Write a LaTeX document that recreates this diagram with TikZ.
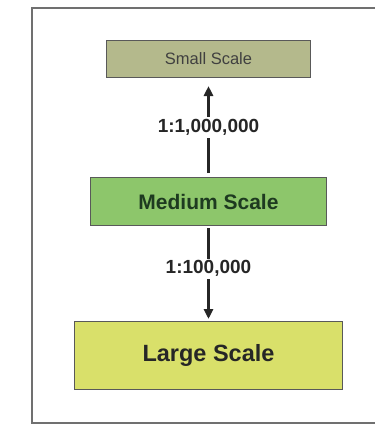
\documentclass[tikz,border=0pt]{standalone}
\usepackage{fontspec}
\setmainfont{Liberation Sans}
\usetikzlibrary{arrows.meta}
\definecolor{smallfill}{HTML}{B4B98C}
\definecolor{medfill}{HTML}{8DC66B}
\definecolor{largefill}{HTML}{D9E06A}
\definecolor{frame}{HTML}{707070}
\begin{document}
\begin{tikzpicture}[x=1pt,y=-1pt,
  scalebox/.style={draw=#1, line width=1pt, inner sep=0pt, anchor=north west},
  conn/.style={line width=3.6pt, draw=black!85, -{Triangle[length=10pt,width=9pt]}},
  lbl/.style={fill=white, inner sep=2pt, font=\fontsize{19}{22}\selectfont\bfseries, text=black!85}]
\useasboundingbox (0,0) rectangle (375,424);
\begin{scope}
\clip (0,0) rectangle (375,424);
\draw[frame, line width=1.5pt] (32,8) rectangle (380,423);
\end{scope}
\node[scalebox=gray!70!black, fill=smallfill, minimum width=204pt, minimum height=37pt,
  font=\fontsize{16.5}{19}\selectfont, text=black!75] (small) at (106,40) {Small Scale};
\node[scalebox=gray!70!black, fill=medfill, minimum width=236pt, minimum height=48pt,
  font=\fontsize{21}{25}\selectfont\bfseries, text={rgb,255:red,30;green,58;blue,32}] (medium) at (90,177) {Medium Scale};
\node[scalebox=gray!70!black, fill=largefill, minimum width=268pt, minimum height=68pt,
  font=\fontsize{23.5}{28}\selectfont\bfseries, text=black!85] (large) at (74,321) {Large Scale};
\draw[conn, shorten <=4pt, shorten >=8pt] (medium.north) -- node[lbl, pos=0.5] {1:1,000,000} (small.south);
\draw[conn, line width=3pt, shorten <=2pt, shorten >=2pt] (medium.south) -- node[lbl, pos=0.45] {1:100,000} (large.north);
\end{tikzpicture}
\end{document}
